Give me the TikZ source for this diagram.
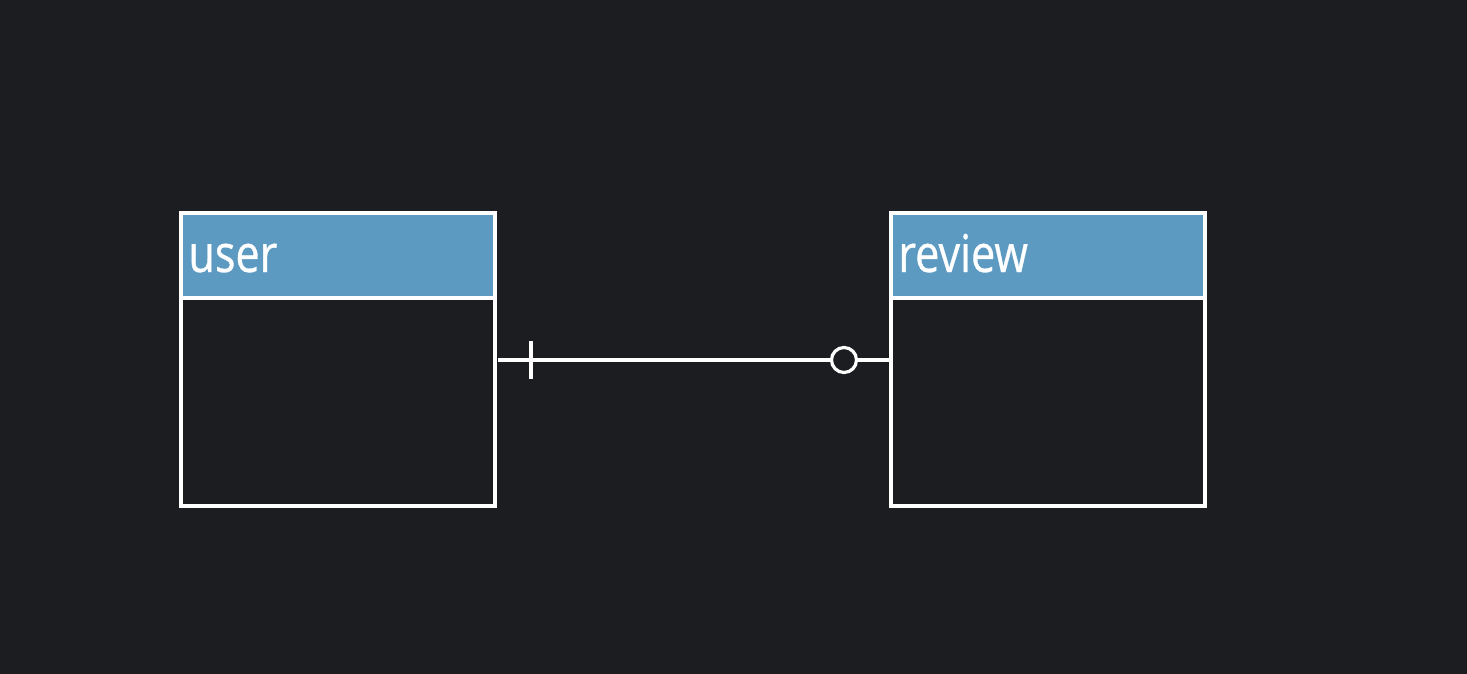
\documentclass[tikz,border=0pt]{standalone}
\usepackage{fontspec}
\setmainfont{Open Sans}[FakeStretch=0.83,FakeBold=0.6]
\definecolor{bg}{HTML}{1C1D21}
\definecolor{hdr}{HTML}{5D9AC2}
\begin{document}
\begin{tikzpicture}[x=0.5pt,y=-0.5pt,
  hdrbox/.style={draw=white,line width=1.6pt,fill=hdr,minimum width=157pt,minimum height=42.5pt,inner sep=0pt,outer sep=0pt},
  bodybox/.style={draw=white,line width=1.6pt,fill=bg,minimum width=157pt,minimum height=104pt,inner sep=0pt,outer sep=0pt},
  title/.style={text=white,font=\fontsize{26pt}{30pt}\selectfont,inner sep=0pt,anchor=base west},
  conn/.style={draw=white,line width=1.6pt}]
\fill[bg] (0,0) rectangle (1467,674);
\useasboundingbox (0,0) rectangle (1467,674);
% user entity
\node[hdrbox] (uhdr) at (338,255.5) {};
\node[bodybox] (ubody) at (338,402) {};
\node[title] (utitle) at (188,272) {user};
% review entity
\node[hdrbox] (rhdr) at (1048,255.5) {};
\node[bodybox] (rbody) at (1048,402) {};
\node[title] (rtitle) at (898,272) {review};
% connector
\coordinate (c1) at (498,360);
\coordinate (c2) at (889,360);
\coordinate (t1) at (531,341);
\coordinate (t2) at (531,379);
\draw[conn] (c1) -- (c2);
\draw[conn] (t1) -- (t2);
\node[circle,draw=white,line width=1.6pt,fill=bg,minimum size=12.5pt,inner sep=0pt] (circ) at (844,360) {};
\end{tikzpicture}
\end{document}
